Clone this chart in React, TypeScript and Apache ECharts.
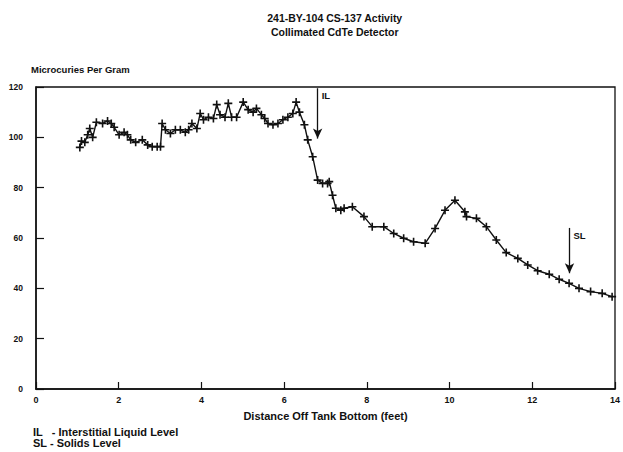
import React, { useEffect, useRef } from "react";
import * as echarts from "echarts";

const distanceFt = [
  1.06, 1.1, 1.18, 1.25, 1.3, 1.37, 1.46, 1.61, 1.73, 1.82, 1.89, 2.01, 2.13, 2.21, 2.29, 2.41, 2.57, 2.7, 2.81, 2.93,
  3.01, 3.05, 3.13, 3.25, 3.37, 3.49, 3.61, 3.69, 3.77, 3.89, 3.97, 4.05, 4.17, 4.29, 4.37, 4.45, 4.57, 4.65, 4.73, 4.85,
  5.01, 5.13, 5.25, 5.33, 5.45, 5.53, 5.61, 5.73, 5.85, 5.97, 6.09, 6.21, 6.29, 6.37, 6.49, 6.57, 6.69, 6.81, 6.93, 7.05,
  7.09, 7.17, 7.25, 7.37, 7.45, 7.65, 7.93, 8.13, 8.41, 8.65, 8.89, 9.13, 9.41, 9.65, 9.89, 10.13, 10.37, 10.41, 10.65,
  10.89, 11.13, 11.37, 11.65, 11.89, 12.13, 12.41, 12.65, 12.89, 13.13, 13.41, 13.69, 13.93,
];
const activity = [
  96, 98.5, 98, 101, 103.5, 100, 106, 105.5, 106.5, 105.5, 104, 101, 102, 101, 99, 98, 99, 97, 96.3, 96.3,
  96.3, 105.5, 103, 101.5, 103, 103, 102, 103, 105.5, 103.5, 109.5, 107, 108, 107.5, 113, 109, 108, 113.5, 108, 108,
  114, 111, 110, 111.5, 109, 107.5, 105.5, 105, 105.5, 107, 108, 109.5, 114, 110, 105, 99, 92.3, 83, 81.7, 81.7,
  82.4, 77, 71.8, 71, 71.8, 72.4, 68.5, 64.5, 64.5, 61.8, 59.9, 58.5, 57.9, 63.8, 71, 75, 70.4, 68.5, 67.8,
  64.5, 59.2, 54.2, 51.9, 49.3, 47, 45.6, 43.6, 42, 40, 38.7, 38, 36.7,
];
const xTicks = [0, 2, 4, 6, 8, 10, 12, 14];
const yTicks = [0, 20, 40, 60, 80, 100, 120];
const markers = [
  { name: "IL", x: 6.81, top: 119.5, bottom: 99.5 },
  { name: "SL", x: 12.9, top: 64, bottom: 46 },
];

const FONT = "'Liberation Sans', Arial, sans-serif";
const INK = "#111";

export default function App() {
  const ref = useRef<HTMLDivElement>(null);
  useEffect(() => {
    if (!ref.current) return;
    const chart = echarts.init(ref.current, null, { renderer: "svg" });
    const data = distanceFt.map((x, i) => [x, activity[i]]);
    chart.setOption({
      animation: false,
      backgroundColor: "#fff",
      textStyle: { fontFamily: FONT },
      graphic: [
        {
          type: "text",
          left: 267,
          top: 11,
          style: {
            text: "241-BY-104 CS-137 Activity\nCollimated CdTe Detector",
            fontFamily: FONT,
            fontWeight: "bold",
            fontSize: 10.5,
            lineHeight: 14,
            fill: INK,
            textAlign: "center",
          },
        },
        {
          type: "text",
          left: 31,
          top: 64,
          style: { text: "Microcuries Per Gram", fontFamily: FONT, fontWeight: "bold", fontSize: 9.5, fill: INK },
        },
        {
          type: "text",
          left: 33,
          top: 426,
          style: {
            text: "IL   - Interstitial Liquid Level\nSL - Solids Level",
            fontFamily: FONT,
            fontWeight: "bold",
            fontSize: 11,
            lineHeight: 11.5,
            fill: INK,
          },
        },
      ],
      grid: { left: 36, top: 87, right: 3, bottom: 63, show: true, borderColor: INK, borderWidth: 1.3 },
      xAxis: {
        type: "value",
        min: 0,
        max: 14,
        interval: 2,
        name: "Distance Off Tank Bottom (feet)",
        nameLocation: "middle",
        nameGap: 21,
        nameTextStyle: { fontFamily: FONT, fontWeight: "bold", fontSize: 11, color: INK },
        axisLine: { lineStyle: { color: INK, width: 1.5 } },
        axisTick: { inside: true, length: 7, lineStyle: { color: INK, width: 1.2 } },
        axisLabel: {
          fontFamily: FONT,
          fontWeight: "bold",
          fontSize: 9,
          color: INK,
          margin: 6,
          formatter: (v: number) => (xTicks.includes(v) ? String(v) : ""),
        },
        splitLine: { show: false },
      },
      yAxis: {
        type: "value",
        min: 0,
        max: 120,
        interval: 20,
        axisLine: { show: true, lineStyle: { color: INK, width: 1.5 } },
        axisTick: { show: true, inside: true, length: 8, lineStyle: { color: INK, width: 1.2 } },
        axisLabel: {
          fontFamily: FONT,
          fontWeight: "bold",
          fontSize: 8.5,
          color: INK,
          margin: 13,
          formatter: (v: number) => (yTicks.includes(v) ? String(v) : ""),
        },
        splitLine: { show: false },
      },
      series: [
        {
          type: "line",
          data,
          lineStyle: { color: INK, width: 1.4 },
          symbol: "path://M4,0H6V4H10V6H6V10H4V6H0V4H4Z",
          symbolSize: 8,
          itemStyle: { color: INK },
          markLine: {
            silent: true,
            symbol: ["none", "arrow"],
            symbolSize: [7, 10],
            lineStyle: { color: INK, width: 1.3, type: "solid" },
            label: { show: false },
            data: markers.map((m) => [
              { coord: [m.x, m.top] },
              { coord: [m.x, m.bottom] },
            ]),
          },
          markPoint: {
            silent: true,
            symbol: "circle",
            symbolSize: 0,
            label: {
              show: true,
              position: "right",
              distance: 4,
              fontFamily: FONT,
              fontWeight: "bold",
              fontSize: 9.5,
              color: INK,
              formatter: (p: any) => p.name,
            },
            data: markers.map((m) => ({ name: m.name, coord: [m.x, m.top - 3] })),
          },
        },
      ],
    });
    return () => chart.dispose();
  }, []);
  return (
    <div
      ref={ref}
      style={{ position: "fixed", left: 0, top: 0, width: 623, height: 452, background: "#fff" }}
    />
  );
}
